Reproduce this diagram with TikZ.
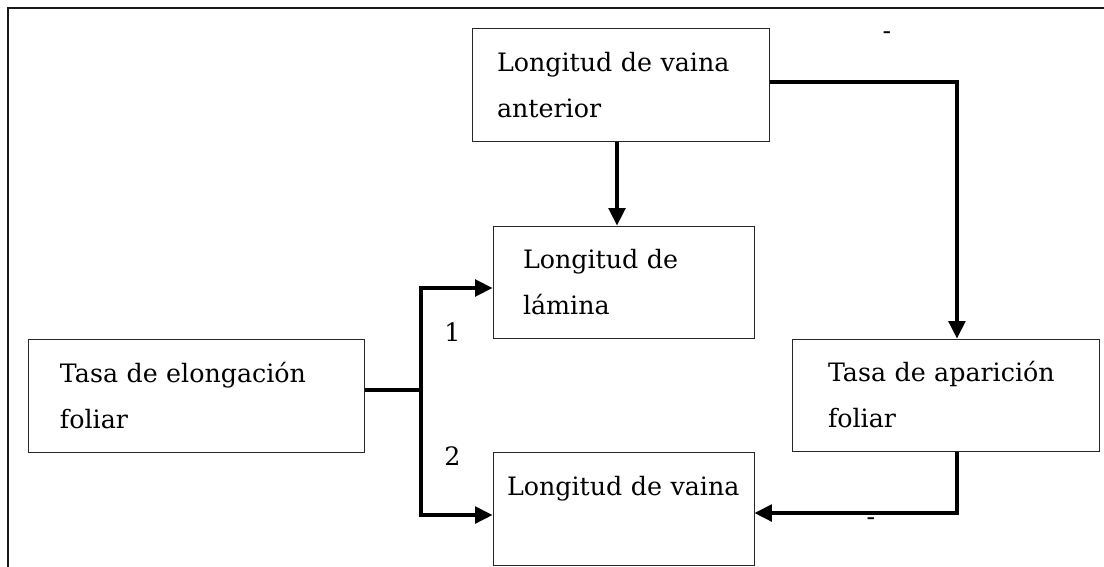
\documentclass[tikz,border=0pt]{standalone}
\usepackage{fontspec}
\setmainfont{DejaVu Serif}
\usetikzlibrary{arrows.meta,calc}

\begin{document}
\begin{tikzpicture}[line join=miter,>={Triangle[length=13pt,width=12.5pt]},x=0.75pt,y=-0.75pt,
    caja/.style={draw=black!85,line width=0.75pt,align=left,inner ysep=0pt,font=\fontsize{19}{34.5}\selectfont},
    flecha/.style={->,line width=2.4pt},
    rotulo/.style={font=\fontsize{19}{23}\selectfont,inner sep=0pt}]
    \useasboundingbox (0,0) rectangle (1104,567);
    % marco
    \draw [line width=1.4pt,black!90] (8,567) -- (8,8) -- (1104,8);
    % cajas
    \node[caja,minimum width=222.75pt,minimum height=84.75pt,inner xsep=18.75pt,text width=185.25pt] (vainaAnt) at (620.5,85.5) {Longitud de vaina\\anterior};
    \node[caja,minimum width=195.75pt,minimum height=84pt,inner xsep=22.5pt,text width=150.75pt] (lamina) at (623.5,282) {Longitud de\\lámina};
    \node[caja,minimum width=252pt,minimum height=84.75pt,inner xsep=24pt,text width=204pt] (elong) at (196,395.5) {Tasa de elongación\\foliar};
    \node[caja,minimum width=195.75pt,minimum height=84.75pt,inner xsep=10.5pt,text width=174.75pt] (vaina) at (623.5,508.5) {Longitud de vaina\\\mbox{}};
    \node[caja,minimum width=230.25pt,minimum height=84pt,inner xsep=27pt,text width=176.25pt] (aparic) at (945.5,395) {Tasa de aparición\\foliar};
    % rotulos
    \node[rotulo] (uno) at (452.5,332) {1};
    \node[rotulo] (dos) at (452.5,456.5) {2};
    \node[rotulo] (menosA) at (887,36) {-};
    \node[rotulo] (menosB) at (871,522) {-};
    % flechas
    \coordinate (bif) at (421,390);
    \draw [line width=2.4pt] (elong.east |- bif) -- (bif);
    \draw [flecha] (bif) |- ([yshift=-4.5pt]lamina.west);
    \draw [flecha] (bif) |- ([yshift=-4.9pt]vaina.west);
    \draw [flecha] (vainaAnt.south -| 617,0) -- (lamina.north -| 617,0);
    \draw [flecha] ([yshift=2.6pt]vainaAnt.east) -| ([xshift=8.6pt]aparic.north);
    \draw [flecha] ([xshift=8.6pt]aparic.south) |- ([yshift=-3.4pt]vaina.east);
\end{tikzpicture}
\end{document}
